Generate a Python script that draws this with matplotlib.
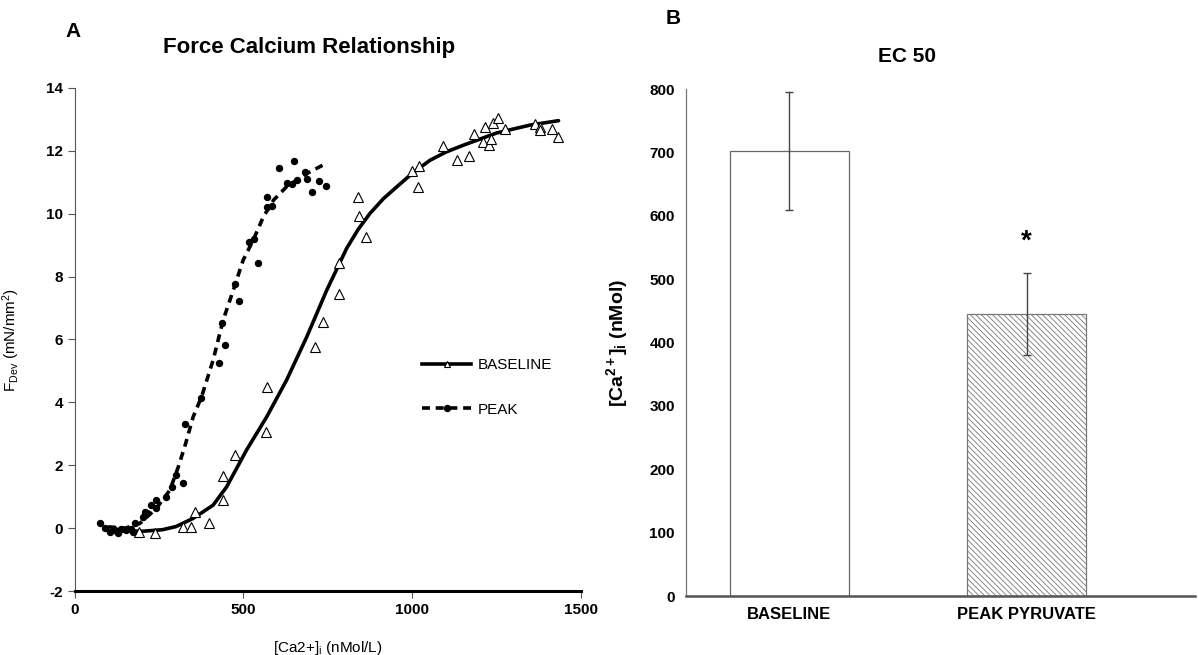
import matplotlib
matplotlib.use("Agg")
import matplotlib.pyplot as plt
from matplotlib.lines import Line2D

plt.rcParams['font.family'] = ['Liberation Sans', 'DejaVu Sans']
plt.rcParams['mathtext.fontset'] = 'custom'
plt.rcParams['mathtext.rm'] = 'Liberation Sans'
plt.rcParams['mathtext.it'] = 'Liberation Sans'
plt.rcParams['mathtext.bf'] = 'Liberation Sans:bold'
plt.rcParams['hatch.linewidth'] = 0.6
plt.rcParams['axes.unicode_minus'] = False

# panel A - baseline points (open triangles)
base_x = [191, 237, 322, 346, 356, 399, 440, 438, 475, 566, 569, 712, 737, 782, 782,
          839, 843, 862, 1001, 1018, 1019, 1093, 1134, 1169, 1184, 1210, 1229, 1217,
          1241, 1256, 1234, 1276, 1365, 1380, 1380, 1414, 1432]
base_y = [-0.12, -0.15, 0.02, 0.02, 0.52, 0.15, 0.91, 1.65, 2.32, 3.06, 4.49, 5.77, 6.56,
          7.46, 8.42, 10.54, 9.92, 9.27, 11.37, 10.84, 11.51, 12.16, 11.70, 11.84, 12.55,
          12.28, 12.20, 12.76, 12.87, 13.05, 12.39, 12.68, 12.84, 12.76, 12.66, 12.68, 12.43]

# panel A - peak points (filled dots)
peak_x = [74, 89, 104, 119, 129, 138, 153, 168, 173, 178, 203, 208, 215, 227, 242, 242,
          271, 287, 300, 321, 326, 373, 428, 445, 435, 475, 487, 516, 532, 544, 571, 584,
          571, 606, 651, 682, 628, 643, 658, 687, 725, 745, 704]
peak_y = [0.15, -0.01, -0.12, -0.06, -0.17, -0.04, -0.06, -0.04, -0.12, 0.15, 0.36, 0.52,
          0.47, 0.73, 0.89, 0.63, 1.0, 1.31, 1.69, 1.44, 3.31, 4.13, 5.24, 5.82, 6.51, 7.76,
          7.23, 9.09, 9.19, 8.42, 10.54, 10.25, 10.20, 11.47, 11.68, 11.33, 10.98, 10.93,
          11.07, 11.12, 11.04, 10.89, 10.70]

# fitted curves
base_fit_x = [128, 200, 260, 300, 351, 410, 450, 509, 569, 628, 688, 747, 806, 840, 875,
              915, 955, 1000, 1053, 1100, 1152, 1251, 1350, 1434]
base_fit_y = [-0.08, -0.10, -0.05, 0.05, 0.31, 0.73, 1.31, 2.48, 3.54, 4.71, 6.09, 7.57,
              8.90, 9.50, 10.01, 10.48, 10.86, 11.28, 11.70, 11.96, 12.18, 12.57, 12.82,
              12.96]
peak_fit_x = [99, 150, 193, 242, 282, 307, 326, 351, 376, 410, 440, 470, 499, 529, 559,
              589, 628, 688, 745]
peak_fit_y = [0.04, 0.00, 0.15, 0.63, 1.21, 1.95, 2.59, 3.54, 4.18, 5.34, 6.62, 7.57, 8.52,
              9.16, 9.90, 10.43, 10.86, 11.28, 11.60]

# panel B - EC50
groups = ['BASELINE', 'PEAK PYRUVATE']
ec50 = [702, 445]
ec50_err = [93, 65]

fig = plt.figure(figsize=(11.98, 6.55), dpi=100)

# ---- panel A
ax1 = fig.add_axes([0.0624, 0.0977, 0.4224, 0.768])
ax1.plot(base_fit_x, base_fit_y, color='black', lw=2.6, solid_capstyle='round')
ax1.plot(peak_fit_x, peak_fit_y, color='black', lw=2.6, ls=(0, (2.2, 1.6)))
ax1.plot(base_x, base_y, ls='none', marker='^', ms=6.5, mfc='white', mec='black', mew=0.8)
ax1.plot(peak_x, peak_y, ls='none', marker='o', ms=4.3, mfc='black', mec='black')

ax1.set_xlim(0, 1500)
ax1.set_ylim(-2, 14)
ax1.set_xticks([0, 500, 1000, 1500])
ax1.set_yticks(range(-2, 15, 2))
for s in ['top', 'right']:
    ax1.spines[s].set_visible(False)
ax1.spines['left'].set_color('#555555')
ax1.spines['left'].set_linewidth(0.8)
ax1.spines['bottom'].set_color('black')
ax1.spines['bottom'].set_linewidth(2.2)
ax1.tick_params(axis='both', direction='out', length=5, width=0.8, color='#555555',
                labelsize=11)
for t in ax1.get_xticklabels() + ax1.get_yticklabels():
    t.set_fontweight('bold')

ax1.set_xlabel(r'[Ca2+]$_{\mathrm{i}}$ (nMol/L)', fontsize=11)
ax1.xaxis.set_label_coords(0.5, -0.095)
ax1.set_ylabel(r'F$_{\mathrm{Dev}}$ (mN/mm$^{2}$)', fontsize=11)
ax1.yaxis.set_label_coords(-0.105, 0.5)

legend_handles = [
    Line2D([], [], color='black', lw=2.6, marker='^', ms=5, mfc='white', mec='black', mew=0.8),
    Line2D([], [], color='black', lw=2.6, ls=(0, (2.2, 1.6)), marker='o', ms=4.3, mfc='black'),
]
ax1.legend(legend_handles, ['BASELINE', 'PEAK'], loc='center left',
           bbox_to_anchor=(0.66, 0.405), frameon=False, fontsize=11, numpoints=1,
           handlelength=3.2, labelspacing=2.0, handletextpad=0.4)

fig.text(0.061, 0.952, 'A', fontsize=15, fontweight='bold', ha='center', va='center')
fig.text(0.258, 0.927, 'Force Calcium Relationship', fontsize=16, fontweight='bold',
         ha='center', va='center')

# ---- panel B
ax2 = fig.add_axes([0.5726, 0.090, 0.4250, 0.774])
pos = list(range(len(groups)))
ax2.bar(pos[0], ec50[0], width=0.5, color='white', edgecolor='#666666', linewidth=0.9)
ax2.bar(pos[1], ec50[1], width=0.5, color='white', edgecolor='#777777', linewidth=0.9,
        hatch='\\\\\\\\\\\\')
ax2.errorbar(pos, ec50, yerr=ec50_err, fmt='none', ecolor='#444444', elinewidth=1,
             capsize=3, capthick=1)
ax2.text(pos[1], ec50[1] + ec50_err[1] + 50, '*', ha='center', va='center',
         fontsize=20, fontweight='bold')

ax2.set_xlim(-0.435, 1.71)
ax2.set_ylim(0, 800)
ax2.set_yticks(range(0, 801, 100))
ax2.set_xticks(pos)
ax2.set_xticklabels(groups)
for s in ['top', 'right']:
    ax2.spines[s].set_visible(False)
ax2.spines['left'].set_color('#777777')
ax2.spines['left'].set_linewidth(0.9)
ax2.spines['bottom'].set_color('#555555')
ax2.spines['bottom'].set_linewidth(1.8)
ax2.tick_params(axis='both', length=0, labelsize=11, pad=8)
for t in ax2.get_yticklabels():
    t.set_fontweight('bold')
for t in ax2.get_xticklabels():
    t.set_fontweight('bold')
    t.set_fontsize(12)
ax2.set_ylabel(r'[Ca$^{\mathbf{2+}}$]$_{\mathbf{i}}$ (nMol)', fontsize=14,
               fontweight='bold')
ax2.yaxis.set_label_coords(-0.11, 0.5)

fig.text(0.757, 0.913, 'EC 50', fontsize=15, fontweight='bold', ha='center', va='center')
fig.text(0.562, 0.972, 'B', fontsize=15, fontweight='bold', ha='center', va='center')

fig.savefig('out.png', dpi=100)
